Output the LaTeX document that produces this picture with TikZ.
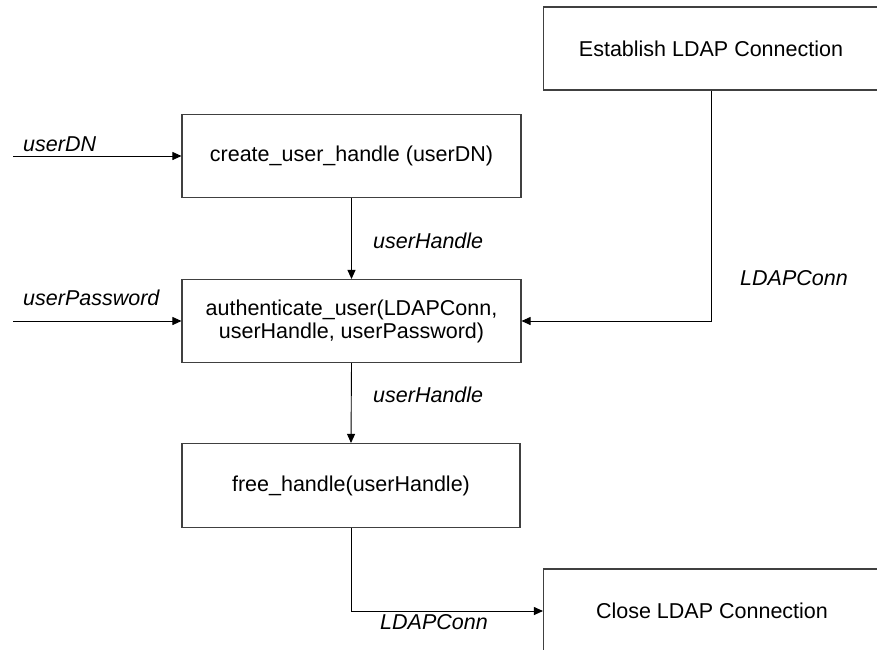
\documentclass[tikz,border=0pt]{standalone}
\usepackage{fontspec}
\setmainfont{Liberation Sans}
\usetikzlibrary{arrows.meta}
\begin{document}
\begin{tikzpicture}[x=1pt,y=-1pt,
  every node/.style={font=\fontsize{21.5}{23}\selectfont},
  func/.style={draw=black!75, line width=1.1pt, rectangle, minimum width=339pt,
    minimum height=83pt, align=center, inner sep=0pt},
  lbl/.style={anchor=base west, inner sep=0pt, font=\fontsize{21.5}{23}\selectfont\itshape},
  flow/.style={draw=black, line width=0.9pt, -{Triangle[length=9pt,width=8pt]}}]
\useasboundingbox (0,0) rectangle (877,649);
\begin{scope}
\clip (0,0) rectangle (877,649);

% process boxes
\node[func, minimum width=335pt] (est) at (711,48.5) {Establish LDAP Connection};
\node[func] (create) at (351.5,156) {create\_user\_handle (userDN)};
\node[func] (auth) at (351.5,321) {authenticate\_user(LDAPConn,\\userHandle, userPassword)};
\node[func, minimum width=338pt, minimum height=84pt] (free) at (351,485.5) {free\_handle(userHandle)};
\node[func, minimum width=337pt, minimum height=84pt] (close) at (712,611) {Close LDAP Connection};

% free input ends
\coordinate (dnin) at (13,156);
\coordinate (pwin) at (13,321);

% data flow
\draw[flow] (dnin) -- (create.west);
\draw[flow] (pwin) -- (auth.west);
\draw[flow] (create.south) -- (auth.north);
\draw[flow] (est.south) |- (auth.east);
\draw[flow] (auth.south) -- (free.north);
\draw[flow] (free.south) |- (close.west);

% flow labels
\node[lbl] (ldn) at (23,151.5) {userDN};
\node[lbl] (lpw) at (23,305) {userPassword};
\node[lbl] (luh1) at (373,248) {userHandle};
\node[lbl] (luh2) at (373,402) {userHandle};
\node[lbl] (lconn1) at (740,285) {LDAPConn};
\node[lbl] (lconn2) at (380,629) {LDAPConn};
\end{scope}
\end{tikzpicture}
\end{document}
